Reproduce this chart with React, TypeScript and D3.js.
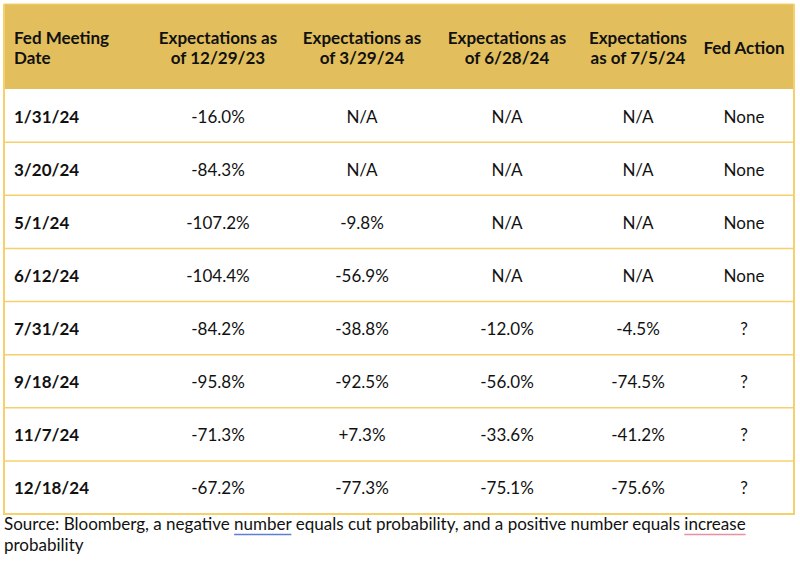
import React, { useEffect, useRef } from "react";
import * as d3 from "d3";

const headers: string[][] = [
  ["Fed Meeting", "Date"],
  ["Expectations as", "of 12/29/23"],
  ["Expectations as", "of 3/29/24"],
  ["Expectations as", "of 6/28/24"],
  ["Expectations", "as of 7/5/24"],
  ["Fed Action"],
];

const meetingDates = ["1/31/24", "3/20/24", "5/1/24", "6/12/24", "7/31/24", "9/18/24", "11/7/24", "12/18/24"];
const exp122923 = ["-16.0%", "-84.3%", "-107.2%", "-104.4%", "-84.2%", "-95.8%", "-71.3%", "-67.2%"];
const exp32924 = ["N/A", "N/A", "-9.8%", "-56.9%", "-38.8%", "-92.5%", "+7.3%", "-77.3%"];
const exp62824 = ["N/A", "N/A", "N/A", "N/A", "-12.0%", "-56.0%", "-33.6%", "-75.1%"];
const exp7524 = ["N/A", "N/A", "N/A", "N/A", "-4.5%", "-74.5%", "-41.2%", "-75.6%"];
const fedAction = ["None", "None", "None", "None", "?", "?", "?", "?"];

const sourceParts = [
  { t: "Source: Bloomberg, a negative ", u: "" },
  { t: "number", u: "#5b7fd6" },
  { t: " equals cut probability, and a positive number equals ", u: "" },
  { t: "increase", u: "#e8909f" },
];
const sourceLine2 = "probability";

const W = 800;
const H = 565;
const FONT = "Lato, 'Open Sans', sans-serif";
const HEADER_FILL = "#e2bf5c";
const LINE = "#f6d06c";

export default function App() {
  const ref = useRef<SVGSVGElement | null>(null);

  useEffect(() => {
    const svg = d3.select(ref.current);
    svg.selectAll("*").remove();

    const left = 4, right = 794, top = 4, headerBottom = 89, bottom = 514;
    const columns = [meetingDates, exp122923, exp32924, exp62824, exp7524, fedAction];
    const colX = [14, 218, 362, 507, 638, 744];
    const colAnchor = ["start", "middle", "middle", "middle", "middle", "middle"];

    const y = d3.scaleBand<number>()
      .domain(d3.range(meetingDates.length))
      .range([headerBottom, bottom])
      .padding(0);

    // header
    svg.append("rect").attr("x", left).attr("y", top).attr("width", right - left).attr("height", headerBottom - top).attr("fill", HEADER_FILL);

    headers.forEach((lines, i) => {
      const cy = (top + headerBottom) / 2 + 2;
      const lh = 20;
      const t = svg.append("text")
        .attr("font-family", FONT).attr("font-size", 17).attr("font-weight", 700)
        .attr("fill", "#111").attr("text-anchor", colAnchor[i]);
      lines.forEach((l, j) => {
        t.append("tspan").attr("x", colX[i])
          .attr("y", cy + (j - (lines.length - 1) / 2) * lh)
          .attr("dy", "0.35em").text(l);
      });
    });

    // row lines
    meetingDates.forEach((_, r) => {
      if (r === 0) return;
      svg.append("line").attr("x1", left).attr("x2", right)
        .attr("y1", y(r)!).attr("y2", y(r)!)
        .attr("stroke", LINE).attr("stroke-width", 1.5);
    });

    // cells
    columns.forEach((col, c) => {
      col.forEach((v, r) => {
        svg.append("text")
          .attr("x", colX[c]).attr("y", y(r)! + y.bandwidth() / 2 + 1)
          .attr("dy", "0.35em")
          .attr("text-anchor", colAnchor[c])
          .attr("font-family", FONT).attr("font-size", 17)
          .attr("font-weight", c === 0 ? 700 : 400)
          .attr("fill", "#111").text(v);
      });
    });

    // outer border (below header)
    svg.append("path")
      .attr("d", `M${left},${top} V${bottom} H${right} V${top}`)
      .attr("fill", "none").attr("stroke", LINE).attr("stroke-width", 2);
    svg.append("line").attr("x1", left).attr("x2", right).attr("y1", top).attr("y2", top)
      .attr("stroke", LINE).attr("stroke-width", 1);

    // source
    const src = svg.append("text").attr("x", left).attr("y", 530)
      .attr("font-family", FONT).attr("font-size", 17).attr("fill", "#111");
    const spans = sourceParts.map((p) => src.append("tspan").text(p.t));
    const srcNode = src.node() as SVGTextElement;
    let offset = 0;
    sourceParts.forEach((p, i) => {
      const len = p.t.length;
      if (p.u) {
        const x0 = srcNode.getStartPositionOfChar(offset).x;
        const x1 = srcNode.getEndPositionOfChar(offset + len - 1).x;
        svg.append("line").attr("x1", x0).attr("x2", x1).attr("y1", 534.5).attr("y2", 534.5)
          .attr("stroke", p.u).attr("stroke-width", 1.5);
      }
      offset += len;
    });
    void spans;
    svg.append("text").attr("x", left).attr("y", 551)
      .attr("font-family", FONT).attr("font-size", 17).attr("fill", "#111").text(sourceLine2);
  }, []);

  return (
    <div style={{ position: "absolute", left: 0, top: 0, width: W, height: H, background: "#fff" }}>
      <svg ref={ref} width={W} height={H} style={{ display: "block" }} />
    </div>
  );
}
